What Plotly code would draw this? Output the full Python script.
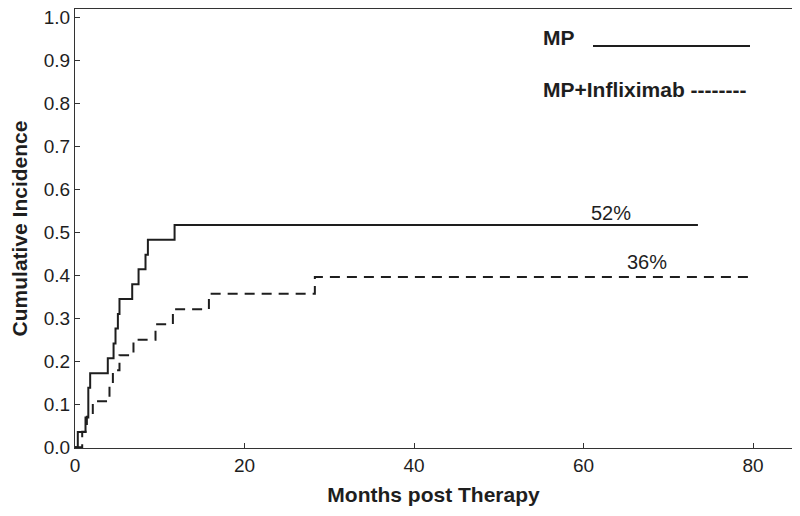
import plotly.graph_objects as go

# MP (solid)
mp_time = [0, 0.33, 1.24, 1.57, 1.79, 3.87, 4.55, 4.78, 5.06, 5.25, 6.75, 7.5, 8.32, 8.6, 11.75, 73.5]
mp_cum = [0, 0.035, 0.069, 0.138, 0.172, 0.207, 0.241, 0.276, 0.310, 0.345, 0.379, 0.414, 0.448, 0.483, 0.517, 0.517]

# MP+Infliximab (dashed)
mpi_time = [0, 0.85, 1.4, 2.1, 4.07, 4.47, 5.25, 6.9, 9.5, 11.55, 15.8, 28.3, 80]
mpi_cum = [0, 0.036, 0.071, 0.107, 0.143, 0.179, 0.214, 0.25, 0.286, 0.321, 0.357, 0.396, 0.396]

y_ticks = [round(i * 0.1, 1) for i in range(11)]
x_ticks = [0, 20, 40, 60, 80]

ink = "#1e1e1e"
font = "Liberation Sans, Arial, sans-serif"

fig = go.Figure()
fig.add_trace(go.Scatter(x=mp_time, y=mp_cum, mode="lines", line_shape="hv",
                         line=dict(color=ink, width=2), name="MP", showlegend=False))
fig.add_trace(go.Scatter(x=mpi_time, y=mpi_cum, mode="lines", line_shape="hv",
                         line=dict(color=ink, width=2, dash="10px,7px"),
                         name="MP+Infliximab", showlegend=False))

fig.add_annotation(x=63.3, y=0.545, text="52%", showarrow=False,
                   font=dict(size=20, color=ink, family=font))
fig.add_annotation(x=67.5, y=0.432, text="36%", showarrow=False,
                   font=dict(size=20, color=ink, family=font))

# Legend drawn as text (positions in page pixels of the plot frame)
L, W, B, H = 75, 717, 448, 439
fig.add_annotation(xref="paper", yref="paper", x=(541 - L) / W, y=(B - 37) / H,
                   xanchor="left", yanchor="middle", text="<b>MP</b>", showarrow=False,
                   font=dict(size=21, color=ink, family=font))
fig.add_shape(type="line", xref="paper", yref="paper",
              x0=(593 - L) / W, x1=(750 - L) / W,
              y0=(B - 46) / H, y1=(B - 46) / H,
              line=dict(color=ink, width=2))
fig.add_annotation(xref="paper", yref="paper", x=(541 - L) / W, y=(B - 89) / H,
                   xanchor="left", yanchor="middle", text="<b>MP+Infliximab --------</b>",
                   showarrow=False, font=dict(size=21, color=ink, family=font))

axis_common = dict(showline=True, linecolor="#333", linewidth=1, mirror=True,
                   ticks="inside", ticklen=5, tickcolor="#333", showgrid=False,
                   zeroline=False, automargin=False, ticklabeloverflow="allow",
                   tickfont=dict(size=19, color=ink, family=font))

fig.update_xaxes(range=[0, 84.6], tickvals=x_ticks, ticktext=[str(v) for v in x_ticks],
                 title=dict(text="<b>Months post Therapy</b>", font=dict(size=21, color=ink, family=font),
                            standoff=12),
                 **axis_common)
fig.update_yaxes(range=[-0.002, 1.02], tickvals=y_ticks, ticktext=[f"{v:.1f}" for v in y_ticks],
                 title=dict(text="<b>Cumulative Incidence</b>", font=dict(size=21, color=ink, family=font),
                            standoff=10),
                 **axis_common)

# page has an 8px body margin, so the figure is sized to fit inside the 800x516 window
fig.update_layout(width=792, height=500, margin=dict(l=67, r=8, t=1, b=60),
                  plot_bgcolor="white", paper_bgcolor="white",
                  font=dict(family=font, color=ink))

fig.write_html("out.html")
